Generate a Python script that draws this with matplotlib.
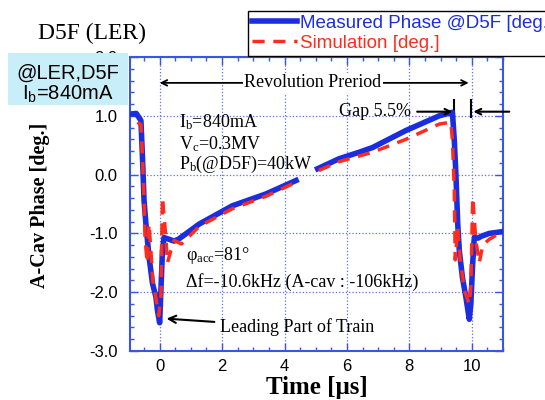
import numpy as np
import matplotlib
matplotlib.use('Agg')
import matplotlib.pyplot as plt
from matplotlib.patches import Rectangle
from matplotlib.ticker import MultipleLocator, FormatStrFormatter

SERIF = 'Liberation Serif'
SANS = 'Liberation Sans'
BLUE = '#1a2ee0'
RED = '#ff2b1c'
FRAME = '#3a55e0'

# measured phase @D5F (deg.), NaN = gap in the trace
meas_t = [-0.93, -0.75, -0.6, -0.55, -0.5, -0.44, -0.34, -0.23, -0.12, -0.07, 0.0,
          0.04, 0.09, 0.14, 0.3, 0.46, 0.6, 1.27, 2.33, 3.4, 4.37, np.nan,
          5.06, 5.75, 6.39, 6.82, 7.89, 8.96, 9.38, 9.44, 9.49, 9.55, 9.6, 9.7, 9.81,
          9.92, 9.97, 10.03, 10.08, 10.2, 10.3, 10.56, 10.98]
meas_y = [1.03, 1.04, 0.92, 0.29, -0.44, -0.84, -1.4, -1.85, -2.08, -2.31, -2.52,
          -1.97, -1.29, -1.07, -1.1, -1.13, -1.1, -0.84, -0.53, -0.33, -0.1, np.nan,
          0.1, 0.27, 0.38, 0.46, 0.75, 1.0, 1.06, 0.58, 0.02, -0.84, -1.29, -1.75, -2.08,
          -2.46, -2.2, -1.5, -1.07, -1.08, -1.05, -1.0, -0.97]

# simulation (deg.)
sim_t = [-0.71, -0.6, -0.55, -0.5, -0.47, -0.4, -0.34, -0.28, -0.22, -0.12, -0.03,
         0.04, 0.09, 0.2, 0.25, 0.36, 0.46, 0.7, 1.27, 2.33, 3.4, 4.37, np.nan,
         5.1, 5.75, 6.82, 7.89, 8.96, 9.33, 9.38, 9.44, 9.47, 9.55, 9.62, 9.76, 9.92,
         9.97, 10.03, 10.13, 10.24, 10.35, 10.56, 10.98]
sim_y = [0.89, 0.85, 0.29, -0.44, -1.07, -1.5, -0.84, -1.3, -1.8, -2.1, -2.4,
         -2.08, -0.39, -1.07, -1.5, -1.29, -1.12, -1.18, -0.88, -0.58, -0.37, -0.13, np.nan,
         0.07, 0.22, 0.38, 0.6, 0.86, 0.89, 0.58, -0.27, -1.45, -0.9, -1.4, -1.97, -2.2,
         -1.9, -0.39, -1.12, -1.5, -1.2, -1.1, -0.97]

W, H = 545, 400
fig = plt.figure(figsize=(W / 100, H / 100), dpi=100)
ax = fig.add_axes([130 / W, 1 - 351 / H, (503 - 130) / W, (351 - 57) / H])

l1, = ax.plot(meas_t, meas_y, color=BLUE, lw=4, zorder=3)
l2, = ax.plot(sim_t, sim_y, color=RED, lw=2.5, dashes=(3.5, 2.5), zorder=4)

ax.set_xlim(-0.95, 11.0)
ax.set_ylim(-3.0, 2.0)
ax.xaxis.set_major_locator(MultipleLocator(2))
ax.xaxis.set_minor_locator(MultipleLocator(0.5))
ax.yaxis.set_major_locator(MultipleLocator(1))
ax.yaxis.set_minor_locator(MultipleLocator(0.2))
ax.yaxis.set_major_formatter(FormatStrFormatter('%.1f'))
ax.tick_params(which='both', direction='in', top=True, right=True, color=FRAME)
ax.tick_params(which='major', length=6, width=1)
ax.tick_params(which='minor', length=3, width=1)
ax.tick_params(axis='y', pad=9)
ax.tick_params(axis='x', pad=6)
for lab in ax.get_xticklabels() + ax.get_yticklabels():
    lab.set_fontfamily(SANS)
    lab.set_fontsize(12)
for s in ax.spines.values():
    s.set_color(FRAME)
    s.set_linewidth(1.5)
ax.grid(True, which='major', color='#5a6ef0', ls=':', lw=0.9)

ax.set_xlabel('Time [μs]', fontfamily=SERIF, fontsize=18, fontweight='bold')
ax.set_ylabel('A-Cav Phase [deg.]', fontfamily=SERIF, fontsize=14.5, fontweight='bold')
ax.xaxis.set_label_coords(0.5, -0.085)
ax.yaxis.set_label_coords(-0.215, 0.495)

tf = dict(fontfamily=SERIF, fontsize=13, va='center', ha='left')
ax.text(0.62, 0.89, 'I$\\mathregular{_b}$=840mA', **tf)
ax.text(0.62, 0.52, 'V$\\mathregular{_c}$=0.3MV', **tf)
ax.text(0.62, 0.17, 'P$\\mathregular{_b}$(@D5F)=40kW', **tf)
ax.text(0.84, -1.38, 'φ$\\mathregular{_{acc}}$=81°', **tf)
ax.text(0.84, -1.83, 'Δf=-10.6kHz (A-cav : -106kHz)', **tf)

# revolution period
ax.annotate('', xy=(0.0, 1.56), xytext=(9.9, 1.56),
            arrowprops=dict(arrowstyle='<->', color='black', lw=1.3, shrinkA=0, shrinkB=0))
ax.text(4.9, 1.56, 'Revolution Preriod', fontfamily=SERIF, fontsize=13, ha='center', va='center',
        bbox=dict(facecolor='white', edgecolor='none', pad=1))

# gap
ax.text(5.75, 1.07, 'Gap 5.5%', fontfamily=SERIF, fontsize=13, ha='left', va='center')
ax.annotate('', xy=(9.38, 1.07), xytext=(8.25, 1.07),
            arrowprops=dict(arrowstyle='->', color='black', lw=1.5, shrinkA=0, shrinkB=0))
ax.annotate('', xy=(10.05, 1.07), xytext=(11.2, 1.07), annotation_clip=False,
            arrowprops=dict(arrowstyle='->', color='black', lw=1.5, shrinkA=0, shrinkB=0))
ax.plot([9.43, 9.43], [0.98, 1.27], color='black', lw=1.5, clip_on=False)
ax.plot([9.98, 9.98], [0.98, 1.27], color='black', lw=1.5, clip_on=False)

# leading part
ax.annotate('Leading Part of Train', xy=(0.22, -2.45), xytext=(1.93, -2.6),
            fontfamily=SERIF, fontsize=13, va='center', ha='left',
            arrowprops=dict(arrowstyle='->', color='black', lw=1.5, shrinkA=2, shrinkB=0))

# legend (cut off at the right edge, like the original)
leg = fig.legend([l1, l2], ['Measured Phase @D5F [deg.]', 'Simulation [deg.]'],
                 loc='upper left', bbox_to_anchor=(248 / W, 1 - 11 / H),
                 prop={'family': SANS, 'size': 13.5}, frameon=True, fancybox=False,
                 edgecolor='black', framealpha=1, borderaxespad=0, borderpad=0.2,
                 handlelength=2.4, handletextpad=0.2, labelspacing=0.15)
leg.get_frame().set_linewidth(1.0)
for txt, c in zip(leg.get_texts(), [BLUE, RED]):
    txt.set_color(c)

fig.text(38 / W, 1 - 33 / H, 'D5F (LER)', fontfamily=SERIF, fontsize=17, ha='left', va='center')

# info box
fig.patches.append(Rectangle((8 / W, 1 - 105 / H), 120 / W, 52 / H, transform=fig.transFigure,
                             facecolor='#c8eefa', edgecolor='none', zorder=5))
fig.text(68 / W, 1 - 73 / H, '@LER,D5F', fontfamily=SANS, fontsize=14.5, ha='center', va='center', zorder=6)
fig.text(68 / W, 1 - 94 / H, 'I$\\mathregular{_b}$=840mA', fontfamily=SANS, fontsize=14.5,
         ha='center', va='center', zorder=6)

fig.savefig('out.png', dpi=100)
